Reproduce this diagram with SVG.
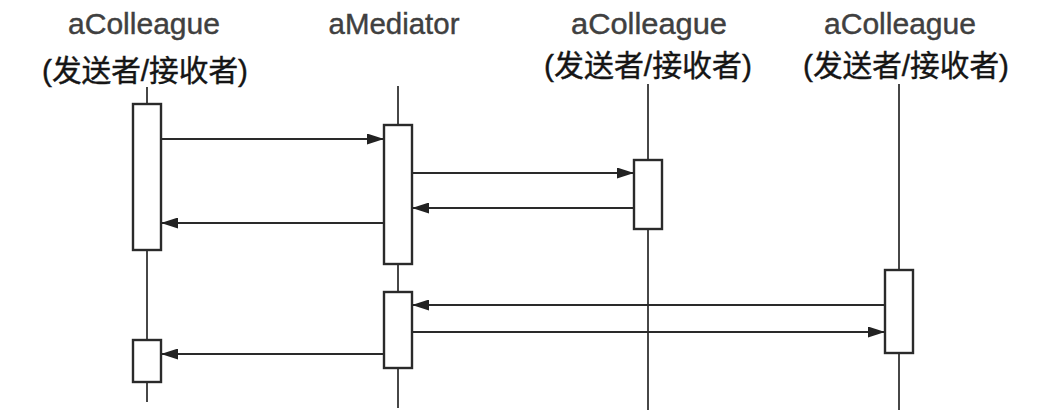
<svg xmlns="http://www.w3.org/2000/svg" width="1050" height="418" viewBox="0 0 1050 418">
<style>
.name{font-family:"Liberation Sans","Noto Sans CJK SC",sans-serif;font-size:29px;fill:#404040;stroke:#404040;stroke-width:0.4;text-anchor:middle}
.role{font-family:"Liberation Sans","Noto Sans CJK SC",sans-serif;font-size:30px;fill:#151515;stroke:#151515;stroke-width:0.4;text-anchor:middle}
.life{stroke:#333;stroke-width:1.8;fill:none}
.act{fill:#fff;stroke:#2a2a2a;stroke-width:2.4}
.msg{stroke:#2a2a2a;stroke-width:2.2;fill:none;marker-end:url(#ah)}
</style>
<defs>
<marker id="ah" viewBox="0 0 17 11" refX="17" refY="5.5" markerWidth="17" markerHeight="11" markerUnits="userSpaceOnUse" orient="auto">
<path d="M0,0 L17,5.5 L0,11 Z" fill="#222"/>
</marker>
</defs>
<rect width="1050" height="418" fill="#fff"/>
<g id="colleague1">
<text class="name" x="144" y="34" textLength="152" lengthAdjust="spacingAndGlyphs">aColleague</text>
<text class="role" x="145" y="81" textLength="206" lengthAdjust="spacingAndGlyphs">(发送者/接收者)</text>
<line class="life" x1="147" y1="87" x2="147" y2="402"/>
<rect class="act" x="133" y="104" width="28" height="146"/>
<rect class="act" x="133" y="340" width="28" height="42"/>
</g>
<g id="mediator">
<text class="name" x="394" y="34" textLength="131" lengthAdjust="spacingAndGlyphs">aMediator</text>
<line class="life" x1="398" y1="86" x2="398" y2="408"/>
<rect class="act" x="384" y="125" width="28" height="139"/>
<rect class="act" x="384" y="292" width="28" height="76"/>
</g>
<g id="colleague2">
<text class="name" x="649" y="34" textLength="156" lengthAdjust="spacingAndGlyphs">aColleague</text>
<text class="role" x="648" y="76" textLength="208" lengthAdjust="spacingAndGlyphs">(发送者/接收者)</text>
<line class="life" x1="648" y1="84" x2="648" y2="410"/>
<rect class="act" x="634" y="160" width="28" height="69"/>
</g>
<g id="colleague3">
<text class="name" x="900" y="34" textLength="152" lengthAdjust="spacingAndGlyphs">aColleague</text>
<text class="role" x="906" y="76" textLength="206" lengthAdjust="spacingAndGlyphs">(发送者/接收者)</text>
<line class="life" x1="899" y1="84" x2="899" y2="410"/>
<rect class="act" x="885" y="270" width="28" height="83"/>
</g>
<g id="connectors">
<line class="msg" x1="161" y1="139" x2="384" y2="139"/>
<line class="msg" x1="384" y1="223" x2="161" y2="223"/>
<line class="msg" x1="412" y1="173" x2="634" y2="173"/>
<line class="msg" x1="634" y1="208" x2="412" y2="208"/>
<line class="msg" x1="885" y1="305" x2="412" y2="305"/>
<line class="msg" x1="412" y1="332" x2="885" y2="332"/>
<line class="msg" x1="384" y1="354" x2="161" y2="354"/>
</g>
</svg>
